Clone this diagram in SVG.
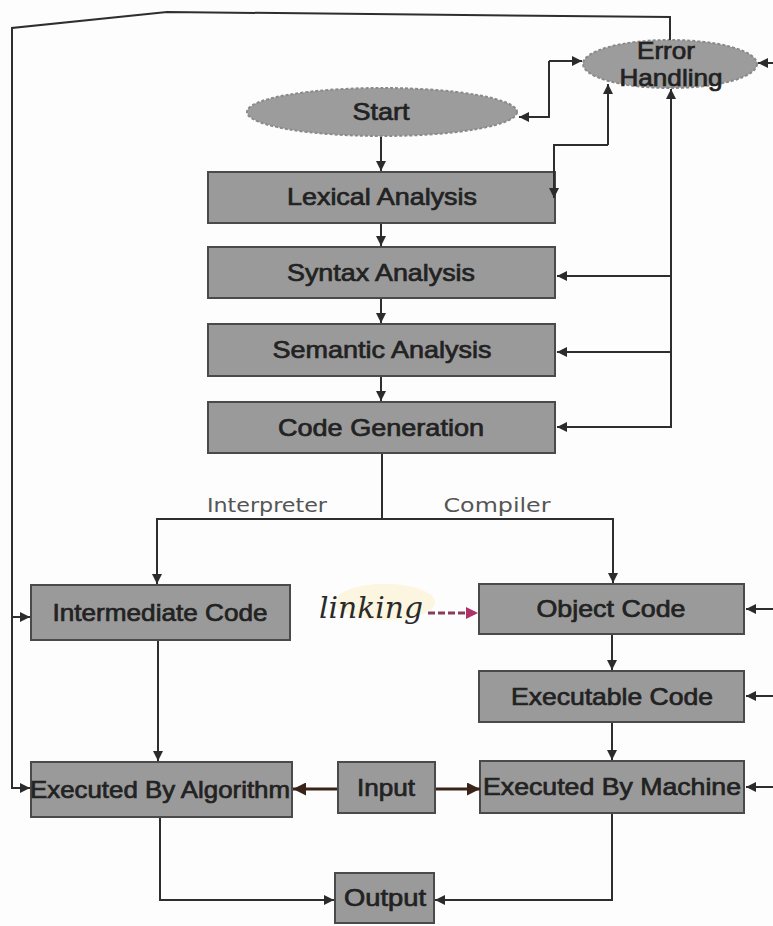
<svg xmlns="http://www.w3.org/2000/svg" width="773" height="926" viewBox="0 0 773 926">
  <defs>
    <marker id="arr" viewBox="0 0 10 10" refX="10" refY="5" markerWidth="11" markerHeight="10" markerUnits="userSpaceOnUse" orient="auto">
      <path d="M0,0 L10,5 L0,10 z" fill="#2b2b2b"/>
    </marker>
    <marker id="arrB" viewBox="0 0 10 10" refX="10" refY="5" markerWidth="13" markerHeight="13" markerUnits="userSpaceOnUse" orient="auto">
      <path d="M0,0 L10,5 L0,10 z" fill="#3a2418"/>
    </marker>
    <marker id="arrP" viewBox="0 0 10 10" refX="10" refY="5" markerWidth="12" markerHeight="12" markerUnits="userSpaceOnUse" orient="auto">
      <path d="M0,0 L10,5 L0,10 z" fill="#b0306a"/>
    </marker>
  </defs>
  <style>
    .box { fill: #9a9a9a; stroke: #4a4a4a; stroke-width: 2; }
    .oval { fill: #9c9c9c; stroke: #8a8a8a; stroke-width: 2; stroke-dasharray: 3 2; }
    .lbl { font-family: "Liberation Sans", Arial, sans-serif; font-size: 24px; fill: #222; stroke: #222; stroke-width: 0.7; text-anchor: middle; }
    .br { font-family: "DejaVu Sans", "Liberation Sans", sans-serif; font-size: 20px; fill: #555; text-anchor: middle; }
  </style>

  <rect width="773" height="926" fill="#fdfdfd"/>

  <!-- branch labels -->
  <text class="br" x="267" y="512" textLength="120" lengthAdjust="spacingAndGlyphs">Interpreter</text>
  <text class="br" x="497" y="512" textLength="107" lengthAdjust="spacingAndGlyphs">Compiler</text>

  <!-- nodes -->
  <g id="start">
    <ellipse class="oval" cx="382" cy="112" rx="135" ry="24"/>
    <text class="lbl" x="381" y="120" textLength="57" lengthAdjust="spacingAndGlyphs">Start</text>
  </g>
  <g id="error-handling">
    <ellipse class="oval" cx="670" cy="64" rx="87" ry="24"/>
    <text class="lbl" x="666" y="59" font-size="21" textLength="58" lengthAdjust="spacingAndGlyphs">Error</text>
    <text class="lbl" x="671" y="86" font-size="21" textLength="103" lengthAdjust="spacingAndGlyphs">Handling</text>
  </g>
  <g id="lexical">
    <rect class="box" x="208" y="172" width="347" height="51"/>
    <text class="lbl" x="382" y="205" textLength="190" lengthAdjust="spacingAndGlyphs">Lexical Analysis</text>
  </g>
  <g id="syntax">
    <rect class="box" x="208" y="247" width="347" height="51"/>
    <text class="lbl" x="381" y="281" textLength="188" lengthAdjust="spacingAndGlyphs">Syntax Analysis</text>
  </g>
  <g id="semantic">
    <rect class="box" x="208" y="324" width="347" height="52"/>
    <text class="lbl" x="382" y="358" textLength="219" lengthAdjust="spacingAndGlyphs">Semantic Analysis</text>
  </g>
  <g id="codegen">
    <rect class="box" x="208" y="402" width="347" height="51"/>
    <text class="lbl" x="381" y="436" textLength="206" lengthAdjust="spacingAndGlyphs">Code Generation</text>
  </g>
  <g id="intermediate">
    <rect class="box" x="31" y="585" width="259" height="55"/>
    <text class="lbl" x="160" y="621" textLength="215" lengthAdjust="spacingAndGlyphs">Intermediate Code</text>
  </g>
  <g id="object">
    <rect class="box" x="479" y="584" width="265" height="50"/>
    <text class="lbl" x="611" y="617" textLength="149" lengthAdjust="spacingAndGlyphs">Object Code</text>
  </g>
  <g id="executable">
    <rect class="box" x="479" y="671" width="265" height="51"/>
    <text class="lbl" x="612" y="705" textLength="202" lengthAdjust="spacingAndGlyphs">Executable Code</text>
  </g>
  <g id="exec-algorithm">
    <rect class="box" x="31" y="762" width="261" height="55"/>
    <text class="lbl" x="160" y="798" textLength="260" lengthAdjust="spacingAndGlyphs">Executed By Algorithm</text>
  </g>
  <g id="input">
    <rect class="box" x="338" y="762" width="97" height="51"/>
    <text class="lbl" x="386" y="796" textLength="58" lengthAdjust="spacingAndGlyphs">Input</text>
  </g>
  <g id="exec-machine">
    <rect class="box" x="480" y="761" width="264" height="52"/>
    <text class="lbl" x="612" y="795" textLength="258" lengthAdjust="spacingAndGlyphs">Executed By Machine</text>
  </g>
  <g id="output">
    <rect class="box" x="335" y="873" width="99" height="50"/>
    <text class="lbl" x="385" y="906" textLength="82" lengthAdjust="spacingAndGlyphs">Output</text>
  </g>

  <!-- handwritten note -->
  <g id="linking-note">
    <ellipse cx="385" cy="602" rx="50" ry="18" fill="#fbf3d8" opacity="0.8"/>
    <text x="319" y="618" font-family="'DejaVu Serif', 'Liberation Serif', serif" font-style="italic" font-size="30" fill="#2a2a2a" textLength="104" lengthAdjust="spacingAndGlyphs">linking</text>
  </g>

  <!-- connectors -->
  <g id="connectors" fill="none" stroke="#2e2e2e" stroke-width="2">
    <!-- main pipeline -->
    <line x1="381" y1="137" x2="381" y2="171" marker-end="url(#arr)"/>
    <line x1="381" y1="224" x2="381" y2="246" marker-end="url(#arr)"/>
    <line x1="381" y1="299" x2="381" y2="323" marker-end="url(#arr)"/>
    <line x1="381" y1="377" x2="381" y2="401" marker-end="url(#arr)"/>
    <!-- interpreter / compiler split -->
    <polyline points="382,454 382,519"/>
    <polyline points="382,519 157,519 157,584" marker-end="url(#arr)"/>
    <polyline points="382,519 613,519 613,583" marker-end="url(#arr)"/>
    <!-- compiler chain -->
    <line x1="612" y1="635" x2="612" y2="670" marker-end="url(#arr)"/>
    <line x1="612" y1="723" x2="612" y2="760" marker-end="url(#arr)"/>
    <!-- interpreter chain -->
    <line x1="158" y1="641" x2="158" y2="761" marker-end="url(#arr)"/>
    <!-- to output -->
    <polyline points="160,818 160,900 334,900" marker-end="url(#arr)"/>
    <polyline points="612,814 612,900 435,900" marker-end="url(#arr)"/>
    <!-- input feeds -->
    <line x1="337" y1="789" x2="293" y2="789" stroke="#3a2418" stroke-width="3" marker-end="url(#arrB)"/>
    <line x1="436" y1="789" x2="480" y2="789" stroke="#3a2418" stroke-width="3" marker-end="url(#arrB)"/>
    <!-- linking note arrow -->
    <line x1="428" y1="613" x2="478" y2="613" stroke="#8a3a5a" stroke-width="3" stroke-dasharray="7 3" marker-end="url(#arrP)"/>
    <!-- error handling links -->
    <polyline points="549,61 549,117 519,117" marker-end="url(#arr)"/>
    <polyline points="549,61 582,61" marker-end="url(#arr)"/>
    <polyline points="608,145 608,84" marker-end="url(#arr)"/>
    <polyline points="608,145 554,145 554,198" marker-end="url(#arr)"/>
    <polyline points="671,428 671,89" marker-end="url(#arr)"/>
    <polyline points="671,276 557,276" marker-end="url(#arr)"/>
    <polyline points="671,352 557,352" marker-end="url(#arr)"/>
    <polyline points="671,427 557,427" marker-end="url(#arr)"/>
    <!-- outer loop on the left -->
    <polyline points="670,40 670,17 167,12 12,28 12,788 30,788" marker-end="url(#arr)"/>
    <polyline points="12,617 30,617" marker-end="url(#arr)"/>
    <!-- feeds from the right edge -->
    <line x1="773" y1="63" x2="758" y2="63" marker-end="url(#arr)"/>
    <line x1="773" y1="609" x2="746" y2="609" marker-end="url(#arr)"/>
    <line x1="773" y1="696" x2="746" y2="696" marker-end="url(#arr)"/>
    <line x1="773" y1="787" x2="746" y2="787" marker-end="url(#arr)"/>
  </g>
</svg>
